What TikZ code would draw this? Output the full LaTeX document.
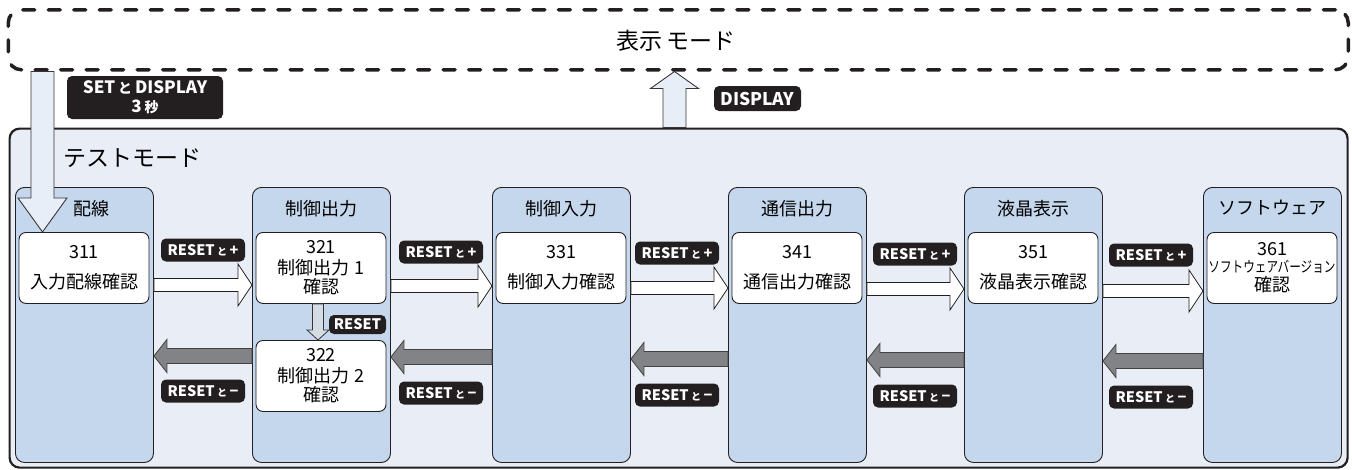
\documentclass[tikz,border=0pt]{standalone}
\usepackage{fontspec}
\setmainfont{Noto Sans CJK JP}
\usetikzlibrary{calc}
\definecolor{outerfill}{HTML}{E9EEF6}
\definecolor{colfill}{HTML}{C5D7EC}
\definecolor{lightarrow}{HTML}{E8EEF7}
\definecolor{smallarrow}{HTML}{D6DCE4}
\definecolor{grayarrow}{HTML}{818386}
\definecolor{ink}{HTML}{231F20}
\newcommand\harrow[6]{%
  \draw[#1] let \p1=(#2), \p2=(#3), \n1={sign(\x2-\x1)} in
   (\x1,\y1+#4pt) -- (\x2-\n1*#6pt,\y1+#4pt) -- (\x2-\n1*#6pt,\y1+#5pt) -- (\x2,\y1)
   -- (\x2-\n1*#6pt,\y1-#5pt) -- (\x2-\n1*#6pt,\y1-#4pt) -- (\x1,\y1-#4pt) -- cycle;}
\newcommand\varrow[6]{%
  \draw[#1] let \p1=(#2), \p2=(#3), \n1={sign(\y2-\y1)} in
   (\x1+#4pt,\y1) -- (\x1+#4pt,\y2-\n1*#6pt) -- (\x1+#5pt,\y2-\n1*#6pt) -- (\x1,\y2)
   -- (\x1-#5pt,\y2-\n1*#6pt) -- (\x1-#4pt,\y2-\n1*#6pt) -- (\x1-#4pt,\y1) -- cycle;}
\begin{document}
\begin{tikzpicture}[x=1pt,y=-1pt,
  colbox/.style={draw=ink,line width=0.9pt,fill=colfill,rounded corners=9pt,
     minimum width=138pt,minimum height=275pt,anchor=north west,inner sep=0pt},
  coltitle/.style={font=\fontsize{18}{18}\selectfont,inner sep=0pt},
  wbox/.style={draw=ink,line width=0.9pt,fill=white,rounded corners=7pt,
     minimum width=130pt,minimum height=71pt,anchor=north,inner sep=0pt,
     align=center,font=\fontsize{18}{22}\selectfont},
  lab/.style={fill=ink,text=white,rounded corners=5pt,minimum width=84pt,
     minimum height=23pt,inner sep=0pt,font=\bfseries\fontsize{14.5}{16}\selectfont,align=center},
  fwd/.style={draw=ink,line width=0.8pt,fill=white},
  back/.style={draw=ink!85,line width=0.8pt,fill=grayarrow},
  bigarrow/.style={draw=ink!90,line width=0.9pt,fill=lightarrow},
  smarrow/.style={draw=ink!90,line width=0.8pt,fill=smallarrow}]
\useasboundingbox (0,0) rectangle (1352,469);
% display mode box
\node[draw=ink,line width=3.5pt,dash pattern=on 12pt off 13.5pt,line cap=round,
  rounded corners=13pt,minimum width=1340pt,minimum height=60pt,anchor=north west,inner sep=0pt]
  (disp) at (6.5,8) {};
\node[font=\fontsize{23}{23}\selectfont] (disptitle) at (676,41) {表示\,モード};
% test mode box
\node[draw=ink,line width=2.2pt,fill=outerfill,rounded corners=10pt,
  minimum width=1338pt,minimum height=339pt,anchor=north west,inner sep=0pt]
  (test) at (8.5,127.5) {};
\node[font=\fontsize{23}{23}\selectfont,anchor=west,inner sep=0pt] (testtitle) at (63,158) {テストモード};
% columns
\node[colbox] (c1) at (15,187) {};
\node[colbox] (c2) at (252,187) {};
\node[colbox] (c3) at (492,187) {};
\node[colbox] (c4) at (728,187) {};
\node[colbox] (c5) at (964,187) {};
\node[colbox] (c6) at (1203,187) {};
\node[coltitle] (t1) at (91,209) {配線};
\node[coltitle] (t2) at (321,209) {制御出力};
\node[coltitle] (t3) at (561,209) {制御入力};
\node[coltitle] (t4) at (797,209) {通信出力};
\node[coltitle] (t5) at (1033,209) {液晶表示};
\node[coltitle] (t6) at (1272,208) {ソフトウェア};
% boxes
\node[wbox] (b311) at (84,232) {311\\[8pt]入力配線確認};
\node[wbox] (b321) at (321,232) {321\\[-1pt]制御出力 1\\[-3pt]確認};
\node[wbox] (b322) at (321,340) {322\\[-1pt]制御出力 2\\[-3pt]確認};
\node[wbox] (b331) at (561,232) {331\\[8pt]制御入力確認};
\node[wbox] (b341) at (797,232) {341\\[8pt]通信出力確認};
\node[wbox] (b351) at (1033,232) {351\\[8pt]液晶表示確認};
\node[wbox] (b361) at (1272,232) {361\\[-5pt]\scalebox{0.775}[1]{\fontsize{15}{15}\selectfont ソフトウェアバージョン}\\[-3pt]確認};
% forward arrows
\coordinate (f1a) at (c1.east |- 0,285);  \coordinate (f1b) at (c2.west |- 0,285);
\coordinate (f2a) at (c2.east |- 0,286);  \coordinate (f2b) at (c3.west |- 0,286);
\coordinate (f3a) at (c3.east |- 0,288);  \coordinate (f3b) at (c4.west |- 0,288);
\coordinate (f4a) at (c4.east |- 0,289);  \coordinate (f4b) at (c5.west |- 0,289);
\coordinate (f5a) at (c5.east |- 0,291);  \coordinate (f5b) at (c6.west |- 0,291);
\harrow{fwd}{f1a}{f1b}{6.5}{21}{14}
\harrow{fwd}{f2a}{f2b}{6.5}{21}{14}
\harrow{fwd}{f3a}{f3b}{6.5}{21}{14}
\harrow{fwd}{f4a}{f4b}{6.5}{21}{14}
\harrow{fwd}{f5a}{f5b}{6.5}{21}{14}
% backward arrows
\coordinate (r1a) at (c2.west |- 0,356);  \coordinate (r1b) at (c1.east |- 0,356);
\coordinate (r2a) at (c3.west |- 0,357);  \coordinate (r2b) at (c2.east |- 0,357);
\coordinate (r3a) at (c4.west |- 0,359);  \coordinate (r3b) at (c3.east |- 0,359);
\coordinate (r4a) at (c5.west |- 0,360);  \coordinate (r4b) at (c4.east |- 0,360);
\coordinate (r5a) at (c6.west |- 0,361);  \coordinate (r5b) at (c5.east |- 0,361);
\harrow{back}{r1a}{r1b}{7.5}{16.5}{13}
\harrow{back}{r2a}{r2b}{7.5}{16.5}{13}
\harrow{back}{r3a}{r3b}{7.5}{16.5}{13}
\harrow{back}{r4a}{r4b}{7.5}{16.5}{13}
\harrow{back}{r5a}{r5b}{7.5}{16.5}{13}
% labels
\newcommand\plus{RESET\,{\fontsize{10}{10}\selectfont と}\,+}
\newcommand\minus{RESET\,{\fontsize{10}{10}\selectfont と}\,−}
\node[lab] (lp1) at (203,250) {\plus};
\node[lab] (lp2) at (441,252) {\plus};
\node[lab] (lp3) at (677,253) {\plus};
\node[lab] (lp4) at (915,254) {\plus};
\node[lab] (lp5) at (1151,255) {\plus};
\node[lab] (lm1) at (203,391) {\minus};
\node[lab] (lm2) at (441,393) {\minus};
\node[lab] (lm3) at (677,395) {\minus};
\node[lab] (lm4) at (915,396) {\minus};
\node[lab] (lm5) at (1151,397) {\minus};
% RESET down arrow in column 2
\coordinate (sa) at (b321.south -| 318,0);
\coordinate (sb) at (b322.north -| 318,0);
\varrow{smarrow}{sa}{sb}{5.5}{11}{10}
\node[lab,minimum width=57pt,minimum height=19pt] (lreset) at (357.5,324.5) {RESET};
% entry arrow from display mode
\coordinate (ea) at (disp.south -| 42.5,0);
\coordinate (eb) at (b311.north -| 42.5,0);
\varrow{bigarrow}{ea}{eb}{11.5}{24.5}{34}
\node[lab,minimum width=156pt,minimum height=43pt,font=\bfseries\fontsize{17}{19}\selectfont] (lset) at (145,97.5) {SET\,{\fontsize{14}{14}\selectfont と}\,DISPLAY\\3\,{\fontsize{14}{14}\selectfont 秒}};
% DISPLAY up arrow
\coordinate (da) at (test.north -| 674.5,0);
\coordinate (db) at (disp.south -| 674.5,0);
\varrow{bigarrow}{da}{db}{11.5}{24}{17}
\node[lab,minimum width=87pt,minimum height=25pt,font=\bfseries\fontsize{17.5}{18}\selectfont] (ldisp) at (757.5,98.5) {DISPLAY};
\end{tikzpicture}
\end{document}
